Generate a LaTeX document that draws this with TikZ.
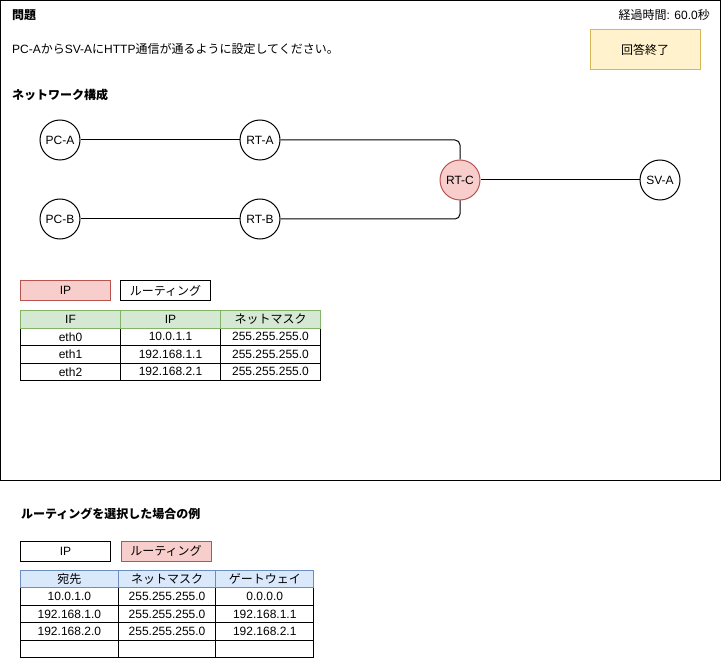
\documentclass[tikz,border=0pt]{standalone}
\usepackage{fontspec}
\setmainfont{Liberation Sans}
\newfontfamily\jp{Noto Sans CJK JP}
\definecolor{rtfill}{HTML}{F8CECC}
\definecolor{rtdraw}{HTML}{B85450}
\definecolor{btnfill}{HTML}{FFF2CC}
\definecolor{btndraw}{HTML}{D6B656}
\definecolor{grfill}{HTML}{D5E8D4}
\definecolor{grdraw}{HTML}{82B366}
\definecolor{blfill}{HTML}{DAE8FC}
\definecolor{bldraw}{HTML}{6C8EBF}
\begin{document}
\begin{tikzpicture}[x=1pt,y=-1pt,
  every node/.style={font=\fontsize{12}{14}\selectfont},
  dev/.style={circle,draw=black,line width=1pt,fill=white,minimum size=40pt,inner sep=0pt},
  link/.style={line width=1pt,draw=black},
  lab/.style={anchor=west,inner sep=0pt},
  btn/.style={draw=btndraw,fill=btnfill,line width=1pt,minimum width=110pt,minimum height=40pt,inner sep=0pt},
  tabbtn/.style={draw=black,line width=1pt,minimum width=90pt,minimum height=20pt,inner sep=0pt,anchor=north west},
  tabsel/.style={tabbtn,draw=rtdraw,fill=rtfill},
  cellA/.style={draw=black,line width=1pt,minimum width=100pt,minimum height=17.5pt,inner sep=0pt,anchor=north west},
  cellB/.style={draw=black,line width=1pt,minimum width=97.7pt,minimum height=17.4pt,inner sep=0pt,anchor=north west}
]
\useasboundingbox (0,0) rectangle (721,658);
\draw[line width=1pt] (0.5,0.5) rectangle (720,480);

\node[lab] (title) at (12,15) {\jp\bfseries 問題};
\node[anchor=east,inner sep=0pt] (timer) at (710,15) {{\jp 経過時間}: 60.0{\jp 秒}};
\node[lab] (instr) at (12,49) {PC-A{\jp から}SV-A{\jp に}HTTP{\jp 通信が通るように設定してください。}};
\node[btn] (done) at (645,50) {\jp 回答終了};
\node[lab] (nettitle) at (12,95) {\jp\bfseries ネットワーク構成};

\node[dev] (pca) at (60,140) {PC-A};
\node[dev] (rta) at (260,140) {RT-A};
\node[dev] (pcb) at (60,219) {PC-B};
\node[dev] (rtb) at (260,219) {RT-B};
\node[dev,fill=rtfill,draw=rtdraw] (rtc) at (460,180) {RT-C};
\node[dev] (sva) at (660,180) {SV-A};

\draw[link] (pca) -- (rta);
\draw[link] (pcb) -- (rtb);
\draw[link,rounded corners=5pt] (rta.east) -| (rtc.north);
\draw[link,rounded corners=5pt] (rtb.east) -| (rtc.south);
\draw[link] (rtc) -- (sva);

% IP tab (selected)
\node[tabsel] (tipa) at (20,280) {IP};
\node[tabbtn] (troa) at (120,280) {\jp ルーティング};

\node[cellA] (a11) at (20,327.5) {eth0};
\node[cellA] (a12) at (120,327.5) {10.0.1.1};
\node[cellA] (a13) at (220,327.5) {255.255.255.0};
\node[cellA] (a21) at (20,345) {eth1};
\node[cellA] (a22) at (120,345) {192.168.1.1};
\node[cellA] (a23) at (220,345) {255.255.255.0};
\node[cellA] (a31) at (20,362.5) {eth2};
\node[cellA] (a32) at (120,362.5) {192.168.2.1};
\node[cellA] (a33) at (220,362.5) {255.255.255.0};
\node[cellA,fill=grfill,draw=grdraw] (ah1) at (20,310) {IF};
\node[cellA,fill=grfill,draw=grdraw] (ah2) at (120,310) {IP};
\node[cellA,fill=grfill,draw=grdraw] (ah3) at (220,310) {\jp ネットマスク};

% Routing example
\node[lab] (extitle) at (21,514) {\jp\bfseries ルーティングを選択した場合の例};
\node[tabbtn] (tipb) at (20,540.5) {IP};
\node[tabsel] (trob) at (120.5,540.5) {\jp ルーティング};

\node[cellB] (b11) at (20,587.4) {10.0.1.0};
\node[cellB] (b12) at (117.7,587.4) {255.255.255.0};
\node[cellB] (b13) at (215.4,587.4) {0.0.0.0};
\node[cellB] (b21) at (20,604.8) {192.168.1.0};
\node[cellB] (b22) at (117.7,604.8) {255.255.255.0};
\node[cellB] (b23) at (215.4,604.8) {192.168.1.1};
\node[cellB] (b31) at (20,622.2) {192.168.2.0};
\node[cellB] (b32) at (117.7,622.2) {255.255.255.0};
\node[cellB] (b33) at (215.4,622.2) {192.168.2.1};
\node[cellB] (b41) at (20,639.6) {};
\node[cellB] (b42) at (117.7,639.6) {};
\node[cellB] (b43) at (215.4,639.6) {};
\node[cellB,fill=blfill,draw=bldraw] (bh1) at (20,570) {\jp 宛先};
\node[cellB,fill=blfill,draw=bldraw] (bh2) at (117.7,570) {\jp ネットマスク};
\node[cellB,fill=blfill,draw=bldraw] (bh3) at (215.4,570) {\jp ゲートウェイ};
\end{tikzpicture}
\end{document}
